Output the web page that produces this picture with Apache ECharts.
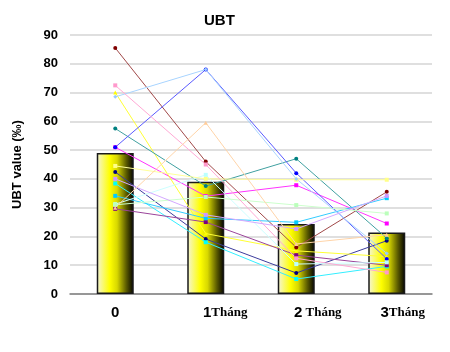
<!DOCTYPE html>
<html>
<head>
<meta charset="utf-8">
<title>UBT</title>
<script src="https://cdn.jsdelivr.net/npm/echarts/dist/echarts.min.js"></script>
<style>
  html, body { margin: 0; padding: 0; background: #fff; }
  #chart { width: 450px; height: 352px; }
</style>
</head>
<body>
<div id="chart"></div>
<script>
// categories (months after treatment)
let categories = ['0', '1', '2', '3'];
let yTicks = [0, 10, 20, 30, 40, 50, 60, 70, 80, 90];

// mean UBT value per month (bars)
let meanValues = [49, 39, 24.3, 21.4];

// individual patients, one array each
let patient1 = [42.4, 19.1, 7.3, 18.5];
let patient2 = [51, 34, 37.8, 24.5];
let patient3 = [70, 21, 15, 13];
let patient4 = [38.4, 18, 5.2, 9.6];
let patient5 = [29.6, 25, 13.5, 10];
let patient6 = [85.5, 46, 16.2, 35.5];
let patient7 = [57.5, 37.5, 47, 19.4];
let patient8 = [51, 78, 42, 12.2];
let patient9 = [34.1, 26.3, 24.9, 33.3];
let patient10 = [31.2, 41.4, 10.4, 11];
let patient11 = [31, 33.7, 30.9, 28];
let patient12 = [44.5, 40, 39.7, 39.7];
let patient13 = [68.5, 78, 40, 14.1];
let patient14 = [72.5, 45, 12.4, 7.5];
let patient15 = [40, 27.5, 22.6, 34.1];
let patient16 = [30, 59.5, 17.4, 20.6];

// marker colour / line colour (thin lines look softer in the original)
let patients = [
  {data: patient1, color: '#000080', line: '#3c3c9c', symbol: 'circle'},
  {data: patient2, color: '#FF00FF', line: '#FF33FF', symbol: 'rect'},
  {data: patient3, color: '#FFFF00', line: '#FFFF33', symbol: 'triangle'},
  {data: patient4, color: '#00FFFF', line: '#33EEFF', symbol: 'rect'},
  {data: patient5, color: '#800080', line: '#9a449a', symbol: 'rect'},
  {data: patient6, color: '#800000', line: '#a04848', symbol: 'circle'},
  {data: patient7, color: '#008080', line: '#40a0a0', symbol: 'circle'},
  {data: patient8, color: '#0000FF', line: '#5a5aff', symbol: 'circle'},
  {data: patient9, color: '#00CCFF', line: '#33CCFF', symbol: 'rect'},
  {data: patient10, color: '#BBFFFF', line: '#CCFFFF', symbol: 'rect'},
  {data: patient11, color: '#BBFFBB', line: '#CCFFCC', symbol: 'rect'},
  {data: patient12, color: '#FFFF88', line: '#FFFF99', symbol: 'rect'},
  {data: patient13, color: '#99CCFF', line: '#a8d4ff', symbol: 'diamond'},
  {data: patient14, color: '#FF99CC', line: '#FFA8D4', symbol: 'rect'},
  {data: patient15, color: '#CC99FF', line: '#D4A8FF', symbol: 'rect'},
  {data: patient16, color: '#FFCC99', line: '#FFD4A8', symbol: 'triangle'}
];

let textColor = '#000000';
let chart = echarts.init(document.getElementById('chart'));

function getLine({data, color, line, symbol}) {
  return {
    type: 'line',
    data,
    symbol,
    symbolSize: 4,
    itemStyle: {color},
    lineStyle: {color: line, width: 1},
    z: 3
  };
}

let series = [{
  type: 'bar',
  data: meanValues,
  barWidth: 37,
  itemStyle: {
    borderColor: '#1a1a1a',
    borderWidth: 1.5,
    color: {
      type: 'linear',
      x: 0, y: 0, x2: 1, y2: 0,
      colorStops: [
        {offset: 0, color: '#f4f4dc'},
        {offset: 0.35, color: '#ffff00'},
        {offset: 0.55, color: '#d8d800'},
        {offset: 0.8, color: '#5a5a00'},
        {offset: 1, color: '#000000'}
      ]
    }
  },
  z: 2
}];
patients.forEach(p => series.push(getLine(p)));

chart.setOption({
  animation: false,
  title: {
    text: 'UBT',
    left: 199,
    top: 8,
    textStyle: {fontFamily: 'Liberation Sans', fontSize: 15, fontWeight: 'bold', color: textColor}
  },
  grid: {left: 70, right: 18, top: 35, bottom: 58},
  xAxis: {
    type: 'category',
    data: categories,
    axisLine: {lineStyle: {color: '#808080', width: 1.5}},
    axisTick: {length: 4, lineStyle: {color: '#808080'}},
    axisLabel: {
      interval: 0,
      hideOverlap: false,
      margin: 11,
      formatter: function (v) {
        if (v === '0') return '{n|0}';
        let gap = v === '1' ? 'g1' : (v === '2' ? 'g2' : 'g3');
        let sep = v === '2' ? ' ' : '';
        return '{' + gap + '|}{n|' + v + '}{t|' + sep + 'Tháng}';
      },
      rich: {
        n: {fontFamily: 'Liberation Sans', fontSize: 15, fontWeight: 'bold', color: textColor},
        t: {fontFamily: 'Liberation Serif', fontSize: 13, fontWeight: 'bold', color: textColor},
        g1: {width: 39},
        g2: {width: 43},
        g3: {width: 32}
      }
    }
  },
  yAxis: {
    type: 'value',
    min: yTicks[0],
    max: yTicks[yTicks.length - 1],
    interval: 10,
    name: 'UBT value (‰)',
    nameLocation: 'middle',
    nameGap: 46,
    nameTextStyle: {fontFamily: 'Liberation Sans', fontSize: 13, fontWeight: 'bold', color: textColor},
    axisLine: {show: false},
    axisTick: {show: false},
    axisLabel: {margin: 12, fontFamily: 'Liberation Sans', fontSize: 13, fontWeight: 'bold', color: textColor},
    splitLine: {lineStyle: {color: '#d4d4d4', width: 1.5}}
  },
  series
});
</script>
</body>
</html>
